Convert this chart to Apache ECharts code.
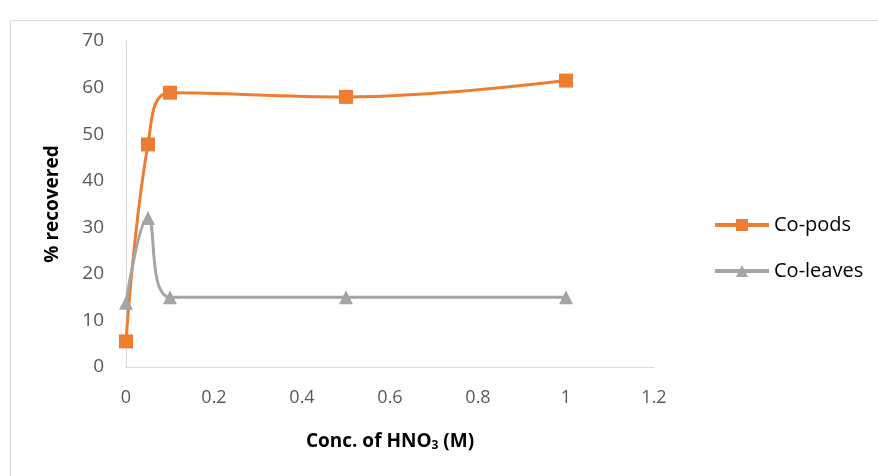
<!DOCTYPE html>
<html>
<head>
<meta charset="utf-8">
<script src="https://cdn.jsdelivr.net/npm/echarts@6/dist/echarts.min.js"></script>
<style>
  html, body { margin: 0; padding: 0; background: #fff; }
  #chart { width: 878px; height: 476px; }
</style>
</head>
<body>
<div id="chart"></div>
<script>
var chart = echarts.init(document.getElementById('chart'));
var option;

const concentrations = [0, 0.05, 0.1, 0.5, 1];
const podsValues = [5.5, 47.8, 58.9, 58.0, 61.5];
const leavesValues = [13.8, 32.0, 15.0, 15.0, 15.0];
const seriesNames = ['Co-pods', 'Co-leaves'];

function pairs(ys) {
  return concentrations.map(function (x, i) { return [x, ys[i]]; });
}

option = {
  animation: false,
  graphic: [{
    type: 'rect',
    shape: { x: 10.5, y: 20.5, width: 900, height: 500 },
    style: { fill: null, stroke: '#d9d9d9', lineWidth: 1 }
  }],
  grid: { left: 126, right: 224, top: 41, bottom: 109 },
  xAxis: {
    type: 'value',
    min: 0,
    max: 1.2,
    interval: 0.2,
    name: 'Conc. of HNO{sub|3} (M)',
    nameLocation: 'middle',
    nameGap: 64,
    nameTextStyle: {
      color: '#000',
      fontSize: 19,
      fontWeight: 'bold',
      fontFamily: 'Open Sans, sans-serif',
      rich: {
        sub: { fontSize: 12, fontWeight: 'bold', verticalAlign: 'bottom', padding: [9, 0, 0, 0],
               fontFamily: 'Open Sans, sans-serif' }
      }
    },
    axisLine: { lineStyle: { color: '#d9d9d9', width: 1 } },
    axisTick: { show: false },
    splitLine: { show: false },
    axisLabel: {
      margin: 22,
      color: '#595959',
      fontSize: 18,
      fontFamily: 'Open Sans, sans-serif',
      formatter: function (v) { return String(Math.round(v * 10) / 10); }
    }
  },
  yAxis: {
    type: 'value',
    min: 0,
    max: 70,
    interval: 10,
    name: '% recovered',
    nameLocation: 'middle',
    nameGap: 64,
    nameTextStyle: {
      color: '#000',
      fontSize: 19,
      fontWeight: 'bold',
      fontFamily: 'Open Sans, sans-serif'
    },
    axisLine: { show: true, lineStyle: { color: '#d9d9d9', width: 1 } },
    axisTick: { show: false },
    splitLine: { show: false },
    axisLabel: {
      margin: 22,
      color: '#595959',
      fontSize: 19,
      fontFamily: 'Open Sans, sans-serif'
    }
  },
  legend: {
    orient: 'vertical',
    left: 708,
    top: 210,
    itemGap: 26,
    itemWidth: 54,
    itemHeight: 15,
    textStyle: { color: '#000', fontSize: 20, fontFamily: 'Open Sans, sans-serif' },
    data: [
      { name: seriesNames[0], lineStyle: { width: 4 } },
      { name: seriesNames[1], lineStyle: { width: 4 } }
    ]
  },
  series: [
    {
      name: seriesNames[0],
      type: 'line',
      data: pairs(podsValues),
      smooth: 0.4,
      symbol: 'rect',
      symbolSize: 14,
      itemStyle: { color: '#ed7d31' },
      lineStyle: { color: '#ed7d31', width: 3 }
    },
    {
      name: seriesNames[1],
      type: 'line',
      data: pairs(leavesValues),
      smooth: 0.4,
      symbol: 'triangle',
      symbolSize: 14,
      itemStyle: { color: '#a5a5a5' },
      lineStyle: { color: '#a5a5a5', width: 3 }
    }
  ]
};

option && chart.setOption(option);
</script>
</body>
</html>
